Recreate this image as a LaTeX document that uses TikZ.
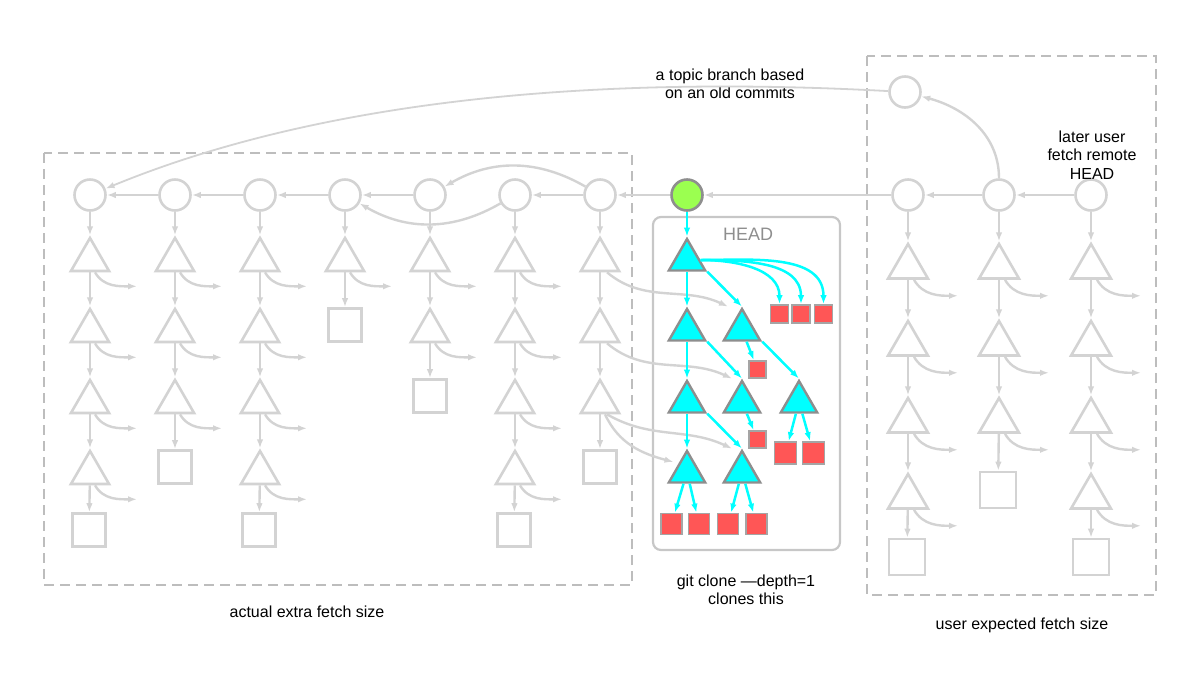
\documentclass[tikz,border=0pt]{standalone}
\usepackage{fontspec}
\setmainfont{Liberation Sans}
\usetikzlibrary{positioning,arrows.meta,shapes.geometric,calc}
\definecolor{oldgray}{HTML}{D3D3D3}
\definecolor{framegray}{HTML}{BDBDBD}
\definecolor{edgegray}{HTML}{8E8E8E}
\definecolor{headcyan}{HTML}{00FFFF}
\definecolor{blobred}{HTML}{FF5656}
\definecolor{headgreen}{HTML}{9BFF50}
\tikzset{
  commitnode/.style={circle, draw=oldgray, line width=2.6pt, minimum size=31pt, inner sep=0pt},
  headcommit/.style={circle, draw=edgegray, fill=headgreen, line width=2.6pt, minimum size=31pt, inner sep=0pt},
  treenode/.style={regular polygon, regular polygon sides=3, draw=oldgray, line width=2.6pt, minimum size=44pt, inner sep=0pt},
  bigtree/.style={treenode, minimum size=46pt},
  headtree/.style={regular polygon, regular polygon sides=3, draw=edgegray, fill=headcyan, line width=2.4pt, minimum size=42pt, inner sep=0pt},
  blobnode/.style={rectangle, draw=oldgray, line width=2.6pt, minimum size=33pt, inner sep=0pt},
  bigblob/.style={blobnode, minimum size=36pt},
  headblob/.style={rectangle, draw=edgegray!80, fill=blobred, line width=1.6pt, inner sep=0pt},
  oldarrow/.style={-{Latex[length=9pt,width=6.5pt]}, draw=oldgray, line width=2.4pt},
  headarrow/.style={-{Latex[length=9pt,width=6.5pt]}, draw=headcyan, line width=2.5pt},
  sizebox/.style={draw=framegray, line width=1.6pt, dash pattern=on 10pt off 6pt},
  notetext/.style={align=center, font=\fontsize{16}{18.5}\selectfont}
}

\begin{document}
\begin{tikzpicture}[x=1pt, y=1pt]
  \useasboundingbox (0,0) rectangle (1201,-697);

  % the two size boxes and the shallow clone
  \draw[sizebox] (44,-153) rectangle (632,-585);
  \draw[sizebox] (867,-56) rectangle (1156,-595);
  \draw[draw=framegray!85, line width=2.2pt, rounded corners=8pt] (653,-217) rectangle (840,-550);
  \node[font=\fontsize{18}{20}\selectfont, text=edgegray] (headlabel) at (748,-234) {HEAD};

  % old history
  \node[commitnode] (a1) at (90,-195) {};
  \node[commitnode] (a2) at (175,-195) {};
  \node[commitnode] (a3) at (260,-195) {};
  \node[commitnode] (a4) at (345,-195) {};
  \node[commitnode] (a5) at (430,-195) {};
  \node[commitnode] (a6) at (515,-195) {};
  \node[commitnode] (a7) at (600,-195) {};

  \node[treenode] (a1t1) at (90,-260) {};
  \node[treenode] (a1t2) at (90,-331) {};
  \node[treenode] (a1t3) at (90,-402) {};
  \node[treenode] (a1t4) at (90,-473) {};
  \node[blobnode] (a1b) at (89,-530) {};
  \node[treenode] (a2t1) at (175,-260) {};
  \node[treenode] (a2t2) at (175,-331) {};
  \node[treenode] (a2t3) at (175,-402) {};
  \node[blobnode] (a2b) at (175,-467) {};
  \node[treenode] (a3t1) at (260,-260) {};
  \node[treenode] (a3t2) at (260,-331) {};
  \node[treenode] (a3t3) at (260,-402) {};
  \node[treenode] (a3t4) at (260,-473) {};
  \node[blobnode] (a3b) at (259,-530) {};
  \node[treenode] (a4t1) at (345,-260) {};
  \node[blobnode] (a4b) at (345,-325) {};
  \node[treenode] (a5t1) at (430,-260) {};
  \node[treenode] (a5t2) at (430,-331) {};
  \node[blobnode] (a5b) at (430,-396) {};
  \node[treenode] (a6t1) at (515,-260) {};
  \node[treenode] (a6t2) at (515,-331) {};
  \node[treenode] (a6t3) at (515,-402) {};
  \node[treenode] (a6t4) at (515,-473) {};
  \node[blobnode] (a6b) at (514,-530) {};
  \node[treenode] (a7t1) at (600,-260) {};
  \node[treenode] (a7t2) at (600,-331) {};
  \node[treenode] (a7t3) at (600,-402) {};
  \node[blobnode] (a7b) at (600,-467) {};

  % what the user expects
  \node[commitnode] (u0) at (905,-92) {};
  \node[commitnode] (u1) at (908,-195) {};
  \node[commitnode] (u2) at (999,-195) {};
  \node[commitnode] (u3) at (1091,-195) {};

  \node[bigtree] (u1t1) at (908,-267) {};
  \node[bigtree] (u1t2) at (908,-344) {};
  \node[bigtree] (u1t3) at (908,-421) {};
  \node[bigtree] (u1t4) at (908,-497) {};
  \node[bigblob] (u1b) at (907,-557) {};
  \node[bigtree] (u2t1) at (999,-267) {};
  \node[bigtree] (u2t2) at (999,-344) {};
  \node[bigtree] (u2t3) at (999,-421) {};
  \node[bigblob] (u2b) at (998,-490) {};
  \node[bigtree] (u3t1) at (1091,-267) {};
  \node[bigtree] (u3t2) at (1091,-344) {};
  \node[bigtree] (u3t3) at (1091,-421) {};
  \node[bigtree] (u3t4) at (1091,-497) {};
  \node[bigblob] (u3b) at (1091,-557) {};

  % remote HEAD
  \node[headcommit] (h) at (687,-195) {};
  \node[headtree] (h1) at (687,-260) {};
  \node[headtree] (h2l) at (687,-330) {};
  \node[headtree] (h2r) at (742,-330) {};
  \node[headtree] (h3l) at (687,-402) {};
  \node[headtree] (h3m) at (742,-402) {};
  \node[headtree] (h3r) at (799,-402) {};
  \node[headtree] (h4l) at (687,-472) {};
  \node[headtree] (h4r) at (742,-472) {};

  \node[headblob, minimum size=18pt] (hb1) at (779.5,-314) {};
  \node[headblob, minimum size=18pt] (hb2) at (801,-314) {};
  \node[headblob, minimum size=18pt] (hb3) at (823.5,-314) {};
  \node[headblob, minimum size=17pt] (hb4) at (757.5,-369.5) {};
  \node[headblob, minimum size=17pt] (hb5) at (757.5,-439.5) {};
  \node[headblob, minimum size=22pt] (hb6) at (785.5,-453) {};
  \node[headblob, minimum size=22pt] (hb7) at (813.5,-453) {};
  \node[headblob, minimum size=21pt] (hb8) at (671.5,-524) {};
  \node[headblob, minimum size=21pt] (hb9) at (699,-524) {};
  \node[headblob, minimum size=21pt] (hb10) at (728,-524) {};
  \node[headblob, minimum size=21pt] (hb11) at (756.5,-524) {};

  % labels
  \node[notetext] (topicnote) at (730,-84) {a topic branch based\\on an old commits};
  \node[notetext] (laternote) at (1092,-155) {later user\\fetch remote\\HEAD};
  \node[notetext] (clonenote) at (746,-590) {git clone —depth=1\\clones this};
  \node[notetext] (actualnote) at (307,-612) {actual extra fetch size};
  \node[notetext] (expectnote) at (1022,-625) {user expected fetch size};

  % commit chain
  \draw[oldarrow] (a2) -- (a1);
  \draw[oldarrow] (a3) -- (a2);
  \draw[oldarrow] (a4) -- (a3);
  \draw[oldarrow] (a5) -- (a4);
  \draw[oldarrow] (a7) -- (a6);
  \draw[oldarrow] (a7) to[bend right=30] (a5);
  \draw[oldarrow] (a6) to[bend left=30] (a4);
  \draw[oldarrow] (h) -- (a7);
  \draw[oldarrow] (u1) -- (h);
  \draw[oldarrow] (u2) -- (u1);
  \draw[oldarrow] (u3) -- (u2);
  \draw[oldarrow] (u2) to[out=90,in=-15] (u0);
  \draw[oldarrow, line width=1.8pt] (u0) .. controls (500,-70) and (260,-125) .. (a1);

  % trees of the old commits
  \draw[oldarrow] (a1) -- (a1t1);
  \draw[oldarrow] (a1t1) -- (a1t2);
  \draw[oldarrow] (a1t2) -- (a1t3);
  \draw[oldarrow] (a1t3) -- (a1t4);
  \draw[oldarrow] (a1t4) -- (a1b);
  \draw[oldarrow] (a2) -- (a2t1);
  \draw[oldarrow] (a2t1) -- (a2t2);
  \draw[oldarrow] (a2t2) -- (a2t3);
  \draw[oldarrow] (a2t3) -- (a2b);
  \draw[oldarrow] (a3) -- (a3t1);
  \draw[oldarrow] (a3t1) -- (a3t2);
  \draw[oldarrow] (a3t2) -- (a3t3);
  \draw[oldarrow] (a3t3) -- (a3t4);
  \draw[oldarrow] (a3t4) -- (a3b);
  \draw[oldarrow] (a4) -- (a4t1);
  \draw[oldarrow] (a4t1) -- (a4b);
  \draw[oldarrow] (a5) -- (a5t1);
  \draw[oldarrow] (a5t1) -- (a5t2);
  \draw[oldarrow] (a5t2) -- (a5b);
  \draw[oldarrow] (a6) -- (a6t1);
  \draw[oldarrow] (a6t1) -- (a6t2);
  \draw[oldarrow] (a6t2) -- (a6t3);
  \draw[oldarrow] (a6t3) -- (a6t4);
  \draw[oldarrow] (a6t4) -- (a6b);
  \draw[oldarrow] (a7) -- (a7t1);
  \draw[oldarrow] (a7t1) -- (a7t2);
  \draw[oldarrow] (a7t2) -- (a7t3);
  \draw[oldarrow] (a7t3) -- (a7b);

  \foreach \t in {a1t1,a1t2,a1t3,a1t4,a2t1,a2t2,a2t3,a3t1,a3t2,a3t3,a3t4,a4t1,a5t1,a5t2,a6t1,a6t2,a6t3,a6t4}
    \draw[oldarrow] ([xshift=5pt]\t.south) to[out=-60,in=180] ([shift={(47pt,-14pt)}]\t.south);

  % shared with HEAD
  \draw[oldarrow] ([xshift=7pt]a7t1.south) to[out=-40,in=155] ([xshift=-14pt]h2r.corner 1);
  \draw[oldarrow] ([xshift=7pt]a7t2.south) to[out=-40,in=155] ([xshift=-10pt]h3m.corner 1);
  \draw[oldarrow] ([xshift=7pt]a7t3.south) to[out=-30,in=155] ([xshift=-10pt]h4r.corner 1);
  \draw[oldarrow] ([xshift=5pt]a7t3.south) to[out=-65,in=165] ([yshift=10pt]h4l.west);

  % trees of the later commits
  \draw[oldarrow] (u1) -- (u1t1);
  \draw[oldarrow] (u1t1) -- (u1t2);
  \draw[oldarrow] (u1t2) -- (u1t3);
  \draw[oldarrow] (u1t3) -- (u1t4);
  \draw[oldarrow] (u1t4) -- (u1b);
  \draw[oldarrow] (u2) -- (u2t1);
  \draw[oldarrow] (u2t1) -- (u2t2);
  \draw[oldarrow] (u2t2) -- (u2t3);
  \draw[oldarrow] (u2t3) -- (u2b);
  \draw[oldarrow] (u3) -- (u3t1);
  \draw[oldarrow] (u3t1) -- (u3t2);
  \draw[oldarrow] (u3t2) -- (u3t3);
  \draw[oldarrow] (u3t3) -- (u3t4);
  \draw[oldarrow] (u3t4) -- (u3b);

  \foreach \t in {u1t1,u1t2,u1t3,u1t4,u2t1,u2t2,u2t3,u3t1,u3t2,u3t3,u3t4}
    \draw[oldarrow] ([xshift=6pt]\t.south) to[out=-60,in=180] ([shift={(50pt,-16pt)}]\t.south);

  % HEAD tree
  \draw[headarrow] (h) -- (h1);
  \draw[headarrow] (h1) -- (h2l);
  \draw[headarrow] (h1.corner 3) -- (h2r.corner 1);
  \draw[headarrow] (h1.east) to[out=0,in=90] (hb1);
  \draw[headarrow] (h1.east) to[out=0,in=90] (hb2);
  \draw[headarrow] (h1.east) to[out=0,in=90] (hb3);
  \draw[headarrow] (h2l) -- (h3l);
  \draw[headarrow] (h2l.corner 3) -- (h3m.corner 1);
  \draw[headarrow] (h2r) -- (hb4);
  \draw[headarrow] (h2r.corner 3) -- (h3r.corner 1);
  \draw[headarrow] (h3l) -- (h4l);
  \draw[headarrow] (h3l.corner 3) -- (h4r.corner 1);
  \draw[headarrow] (h3m) -- (hb5);
  \draw[headarrow] (h3r) -- (hb6);
  \draw[headarrow] (h3r) -- (hb7);
  \draw[headarrow] (h4l) -- (hb8);
  \draw[headarrow] (h4l) -- (hb9);
  \draw[headarrow] (h4r) -- (hb10);
  \draw[headarrow] (h4r) -- (hb11);
\end{tikzpicture}
\end{document}
